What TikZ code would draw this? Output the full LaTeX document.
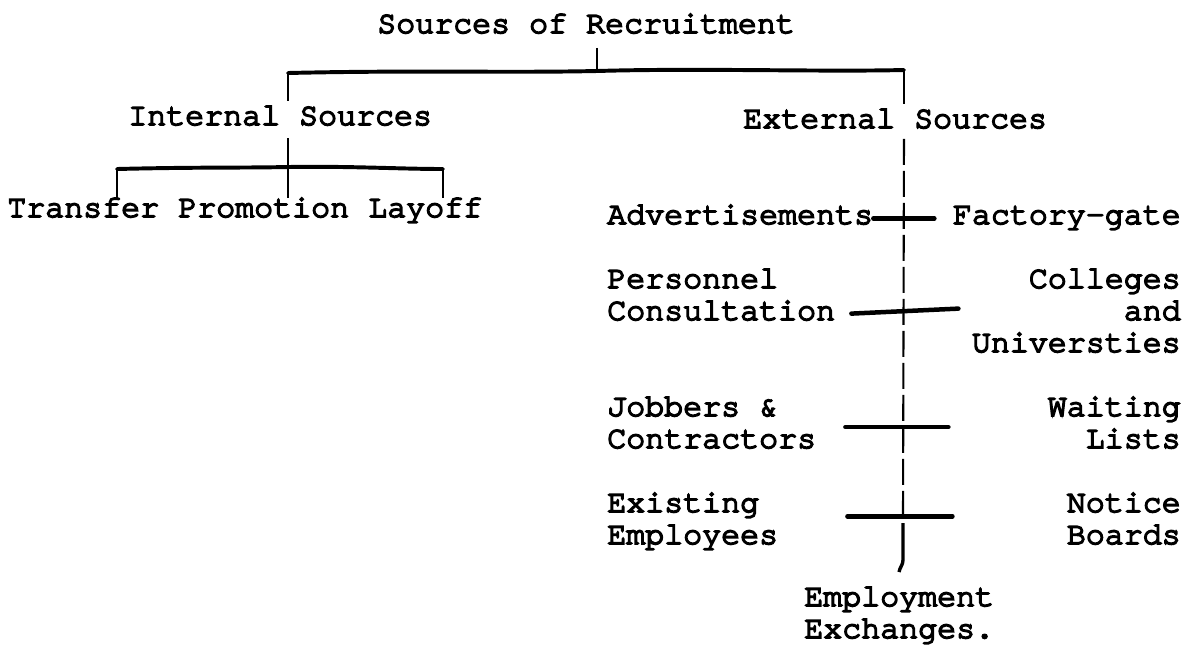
\documentclass[tikz,border=0pt]{standalone}
\usepackage{fontspec}
\usepackage{tikz}
\newfontfamily\typew[FakeBold=5, Ligatures=NoCommon]{TeX Gyre Cursor}

\begin{document}
\begin{tikzpicture}[
    x=0.025cm, y=-0.025cm,
    txt/.style={font=\typew\fontsize{22.5}{24}\selectfont, inner sep=0pt},
    lft/.style={txt, anchor=base west},
    rgt/.style={txt, anchor=base east},
    bar/.style={line width=1.5pt},
    rule/.style={line width=2.8pt, line cap=round},
    tick/.style={line width=3.2pt, line cap=round},
  ]
    \useasboundingbox (0,0) rectangle (1188,647);

    % --- Heading ---
    \node[lft] (root) at (377,33) {Sources of Recruitment};
    \coordinate (rootj) at (597,71);
    \coordinate (intj)  at (288,73);
    \coordinate (extj)  at (904,70);
    \draw[bar, shorten <=10pt] (root.south -| rootj) -- (rootj);
    \draw[rule] (intj) .. controls (420,70) and (500,73) .. (rootj)
                       .. controls (700,68) and (820,72) .. (extj);

    % --- Second level ---
    \node[lft] (int) at (128,125) {Internal Sources};
    \node[lft] (ext) at (743,128) {External Sources};
    \draw[bar, shorten >=3pt] (intj) -- (intj |- int.north);
    \draw[bar, shorten >=3pt] (extj) -- (extj |- ext.north);

    % --- Internal sources ---
    \node[lft] (trans)  at (7,217)   {Transfer};
    \node[lft] (promo)  at (178,217) {Promotion};
    \node[lft] (layoff) at (368,217) {Layoff};
    \coordinate (tl) at (117,169);
    \coordinate (tm) at (288,167);
    \coordinate (tr) at (443,169);
    \draw[bar, shorten <=9pt] (int.south -| tm) -- (tm);
    \draw[rule] (tl) .. controls (200,167) and (240,168) .. (tm)
                     .. controls (350,166) and (400,169) .. (tr);
    \foreach \c in {tl,tm,tr}
      \draw[bar] (\c) -- (\c |- trans.north);

    % --- External sources, left column ---
    \node[lft] (adv)   at (607,224) {Advertisements};
    \node[lft] (pers)  at (607,288) {Personnel};
    \node[lft] (cons)  at (607,320) {Consultation};
    \node[lft] (jobb)  at (607,416) {Jobbers \&};
    \node[lft] (cont)  at (607,448) {Contractors};
    \node[lft] (exist) at (607,512) {Existing};
    \node[lft] (empl)  at (607,544) {Employees};

    % --- External sources, right column ---
    \node[rgt] (fact)  at (1181,224) {Factory-gate};
    \node[rgt] (coll)  at (1181,288) {Colleges};
    \node[rgt] (and)   at (1181,320) {and};
    \node[rgt] (univ)  at (1181,352) {Universties};
    \node[rgt] (wait)  at (1181,416) {Waiting};
    \node[rgt] (lists) at (1181,448) {Lists};
    \node[rgt] (notc)  at (1181,512) {Notice};
    \node[rgt] (brds)  at (1181,544) {Boards};

    % --- Bottom ---
    \node[lft] (emex)  at (804,606) {Employment};
    \node[lft] (exch)  at (804,638) {Exchanges.};

    % --- Spine of typed bars ---
    \coordinate (spinebot) at (903,516);
    \coordinate (jtop) at (903,523);
    \coordinate (jbot) at (899,572);
    \draw[bar, dash pattern=on 18.5pt off 4.27pt, shorten <=7.1pt]
      (ext.south -| extj) -- (spinebot);
    \draw[line width=2.4pt] (jtop) -- (903,560) to[out=-90,in=80] (jbot);

    % --- Cross strokes ---
    \draw[tick] (adv.east) ++(0,4) -- ++(61,0);
    \draw[tick] (cons.east) ++(16,3) -- ++(107,-5);
    \draw[tick] (cont.east) ++(29,-12) -- ++(103,0);
    \draw[tick] (exist.east) ++(88,11) -- ++(105,0);
\end{tikzpicture}
\end{document}
